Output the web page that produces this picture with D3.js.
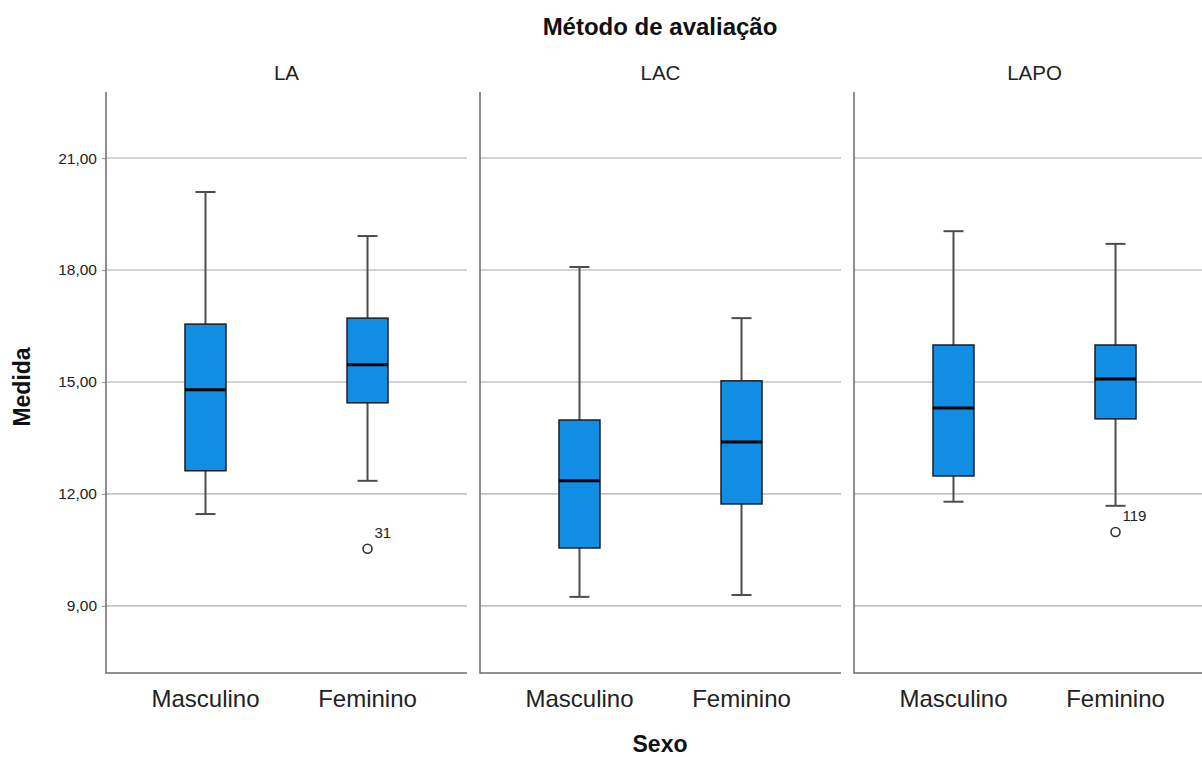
<!DOCTYPE html>
<html>
<head>
<meta charset="utf-8">
<script src="https://cdn.jsdelivr.net/npm/d3@7"></script>
<style>
  body { margin: 0; background: #fff; }
  text { font-family: "Liberation Sans", Arial, sans-serif; }
</style>
</head>
<body>
<div id="chart"></div>
<script>
// box plot data, [method][sex]
var methods = ["LA", "LAC", "LAPO"]
var sexes = ["Masculino", "Feminino"]
var whiskerLow = [[11.46, 12.35], [9.24, 9.29], [11.79, 11.68]]
var q1 = [[12.62, 14.44], [10.55, 11.73], [12.48, 14.01]]
var median = [[14.79, 15.46], [12.35, 13.39], [14.30, 15.08]]
var q3 = [[16.55, 16.71], [13.98, 15.03], [15.99, 15.99]]
var whiskerHigh = [[20.09, 18.91], [18.08, 16.71], [19.04, 18.70]]

var outlierMethod = ["LA", "LAPO"]
var outlierSex = ["Feminino", "Feminino"]
var outlierValue = [10.53, 10.98]
var outlierId = ["31", "119"]

var yTicks = [9, 12, 15, 18, 21]

var width = 1202,
    height = 757,
    plotTop = 92,
    plotBottom = 673,
    plotLeft = 106,
    panelW = 361,
    panelStep = 374,
    boxW = 41,
    capW = 20

var svg = d3.select("#chart")
            .append("svg")
            .attr("width", width)
            .attr("height", height)

var y = d3.scaleLinear()
          .domain([7.2, 22.77])
          .range([plotBottom, plotTop])

var panelX = d3.scaleBand()
               .domain(methods)
               .range([plotLeft, plotLeft + panelStep * methods.length])
               .paddingInner(0)

var x = d3.scalePoint()
          .domain(sexes)
          .range([0, panelW])
          .padding(0.614)

var fmt = function(d) { return d3.format(".2f")(d).replace(".", ",") }

methods.forEach(function(m, i) {
    var g = svg.append("g")
               .attr("transform", "translate(" + panelX(m) + ",0)")

    // gridlines
    g.selectAll(".grid")
     .data(yTicks)
     .enter().append("line")
     .attr("x1", 0)
     .attr("x2", panelW)
     .attr("y1", function(d) { return y(d) })
     .attr("y2", function(d) { return y(d) })
     .attr("stroke", "#c4c4c4")
     .attr("stroke-width", 1.6)

    // axis frame: left + bottom
    g.append("path")
     .attr("d", "M0," + plotTop + "V" + plotBottom + "H" + panelW)
     .attr("fill", "none")
     .attr("stroke", "#6b6b6b")
     .attr("stroke-width", 1.5)

    if (i == 0) {
        var yAxis = d3.axisLeft(y)
                      .tickValues(yTicks)
                      .tickFormat(fmt)
                      .tickSize(4)
                      .tickPadding(5)
        var ax = g.append("g").call(yAxis)
        ax.select(".domain").remove()
        ax.selectAll("line").attr("stroke", "#888")
        ax.selectAll("text")
          .attr("font-size", "15.5px")
          .attr("fill", "#222")
          .attr("font-family", "Liberation Sans, Arial, sans-serif")
    }

    // panel title
    g.append("text")
     .attr("x", panelW / 2)
     .attr("y", 80)
     .attr("text-anchor", "middle")
     .attr("font-size", "20.5px")
     .attr("fill", "#222")
     .text(m)

    // x labels
    g.selectAll(".xlab")
     .data(sexes)
     .enter().append("text")
     .attr("x", function(d) { return x(d) })
     .attr("y", 707)
     .attr("text-anchor", "middle")
     .attr("font-size", "24px")
     .attr("fill", "#222")
     .text(function(d) { return d })

    sexes.forEach(function(s, j) {
        var cx = x(s)
        // whiskers
        g.append("line")
         .attr("x1", cx).attr("x2", cx)
         .attr("y1", y(whiskerHigh[i][j])).attr("y2", y(q3[i][j]))
         .attr("stroke", "#4d4d4d").attr("stroke-width", 2)
        g.append("line")
         .attr("x1", cx).attr("x2", cx)
         .attr("y1", y(q1[i][j])).attr("y2", y(whiskerLow[i][j]))
         .attr("stroke", "#4d4d4d").attr("stroke-width", 2)
        ;[whiskerHigh[i][j], whiskerLow[i][j]].forEach(function(v) {
            g.append("line")
             .attr("x1", cx - capW / 2).attr("x2", cx + capW / 2)
             .attr("y1", y(v)).attr("y2", y(v))
             .attr("stroke", "#4d4d4d").attr("stroke-width", 2)
        })
        // box
        g.append("rect")
         .attr("x", cx - boxW / 2)
         .attr("y", y(q3[i][j]))
         .attr("width", boxW)
         .attr("height", y(q1[i][j]) - y(q3[i][j]))
         .attr("fill", "#118de3")
         .attr("stroke", "#1e1e1e")
         .attr("stroke-width", 1.5)
        // median
        g.append("line")
         .attr("x1", cx - boxW / 2).attr("x2", cx + boxW / 2)
         .attr("y1", y(median[i][j])).attr("y2", y(median[i][j]))
         .attr("stroke", "#000").attr("stroke-width", 3)
    })

    // outliers
    outlierValue.forEach(function(v, k) {
        if (outlierMethod[k] != m) return
        var cx = x(outlierSex[k])
        g.append("circle")
         .attr("cx", cx)
         .attr("cy", y(v))
         .attr("r", 4.5)
         .attr("fill", "#fff")
         .attr("stroke", "#333")
         .attr("stroke-width", 1.6)
        g.append("text")
         .attr("x", cx + 7)
         .attr("y", y(v) - 11)
         .attr("font-size", "15px")
         .attr("fill", "#222")
         .text(outlierId[k])
    })
})

svg.append("text")
   .attr("x", 660)
   .attr("y", 35)
   .attr("text-anchor", "middle")
   .attr("font-size", "24px")
   .attr("font-weight", "bold")
   .attr("fill", "#111")
   .text("Método de avaliação")

svg.append("text")
   .attr("x", 660)
   .attr("y", 752)
   .attr("text-anchor", "middle")
   .attr("font-size", "23px")
   .attr("font-weight", "bold")
   .attr("fill", "#111")
   .text("Sexo")

svg.append("text")
   .attr("transform", "translate(30,387) rotate(-90)")
   .attr("text-anchor", "middle")
   .attr("font-size", "23px")
   .attr("font-weight", "bold")
   .attr("fill", "#111")
   .text("Medida")
</script>
</body>
</html>
